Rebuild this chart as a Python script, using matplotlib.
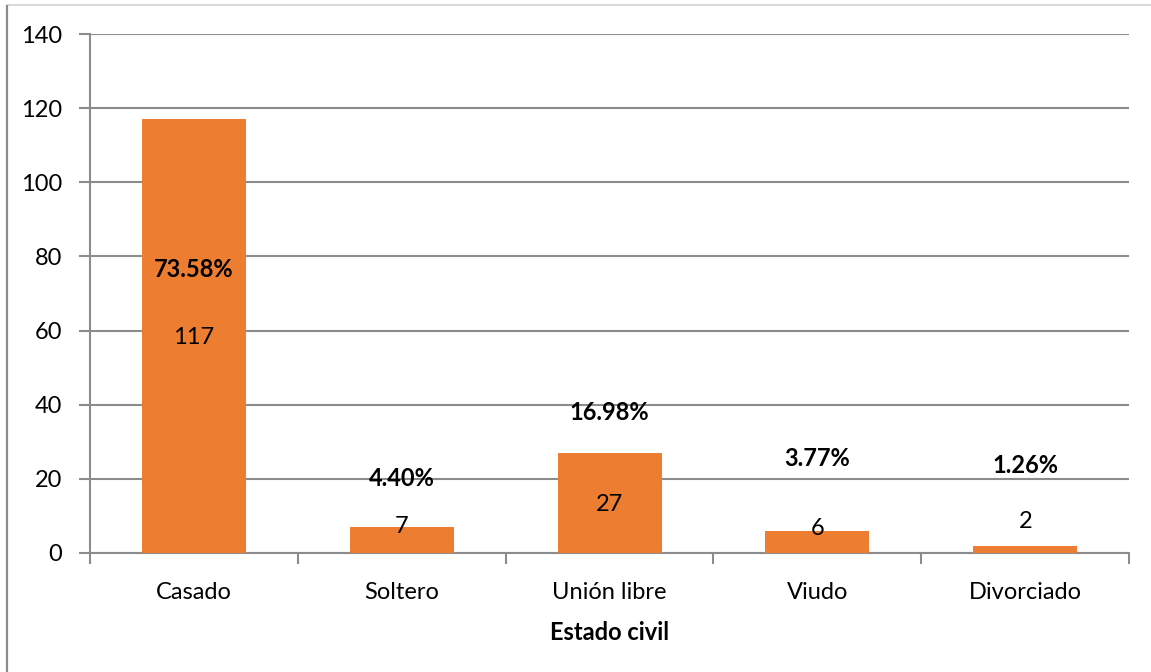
import matplotlib.pyplot as plt
from matplotlib.patches import Rectangle

categories = ['Casado', 'Soltero', 'Unión libre', 'Viudo', 'Divorciado']
counts = [117, 7, 27, 6, 2]
percents = ['73.58%', '4.40%', '16.98%', '3.77%', '1.26%']
# where the labels sit (data units), as placed in the original chart
pct_label_y = [76.6, 20.2, 37.8, 25.6, 23.7]
count_label_y = [58, 7.2, 13.0, 6.5, 8.6]

plt.rcParams['font.family'] = ['Lato', 'DejaVu Sans']
grey = '#8c8c8c'
fs = 17

fig = plt.figure(figsize=(11.51, 6.72), dpi=100)
ax = fig.add_axes([0.0782, 0.1771, 0.9028, 0.7723])

x = range(len(categories))
ax.bar(x, counts, width=0.5, color='#ED7D31', zorder=3)

for i in x:
    ax.text(i, pct_label_y[i], percents[i], ha='center', va='center',
            fontsize=fs, fontweight='bold', zorder=4)
    ax.text(i, count_label_y[i], str(counts[i]), ha='center', va='center',
            fontsize=fs, zorder=4)

ax.set_xlim(-0.5, len(categories) - 0.5)
ax.set_ylim(0, 140)
ax.set_yticks(range(0, 141, 20))
ax.yaxis.grid(True, color=grey, linewidth=1.5, zorder=0)
ax.set_axisbelow(True)

ax.set_xticks([i + 0.5 for i in range(-1, len(categories))], minor=False)
ax.set_xticklabels([])
ax.set_xticks(list(x), minor=True)
ax.set_xticklabels(categories, minor=True)
ax.tick_params(axis='x', which='major', length=8, width=1.5, color=grey)
ax.tick_params(axis='x', which='minor', length=0, pad=21, labelsize=fs)
ax.tick_params(axis='y', length=8, width=1.5, color=grey, labelsize=fs, pad=12)

for s in ['top', 'right']:
    ax.spines[s].set_visible(False)
for s in ['left', 'bottom']:
    ax.spines[s].set_color(grey)
    ax.spines[s].set_linewidth(1.5)

ax.set_xlabel('Estado civil', fontsize=fs, fontweight='bold', labelpad=13)

# chart border
fig.patches.append(Rectangle((0.006, -0.01), 1.2, 1.003, transform=fig.transFigure,
                             fill=False, edgecolor='#d9d9d9', linewidth=1.5))
fig.patches.append(Rectangle((0.006, -0.01), 0.0, 1.003, transform=fig.transFigure,
                             fill=False, edgecolor=grey, linewidth=1.5))

fig.savefig('out.png', dpi=100)
